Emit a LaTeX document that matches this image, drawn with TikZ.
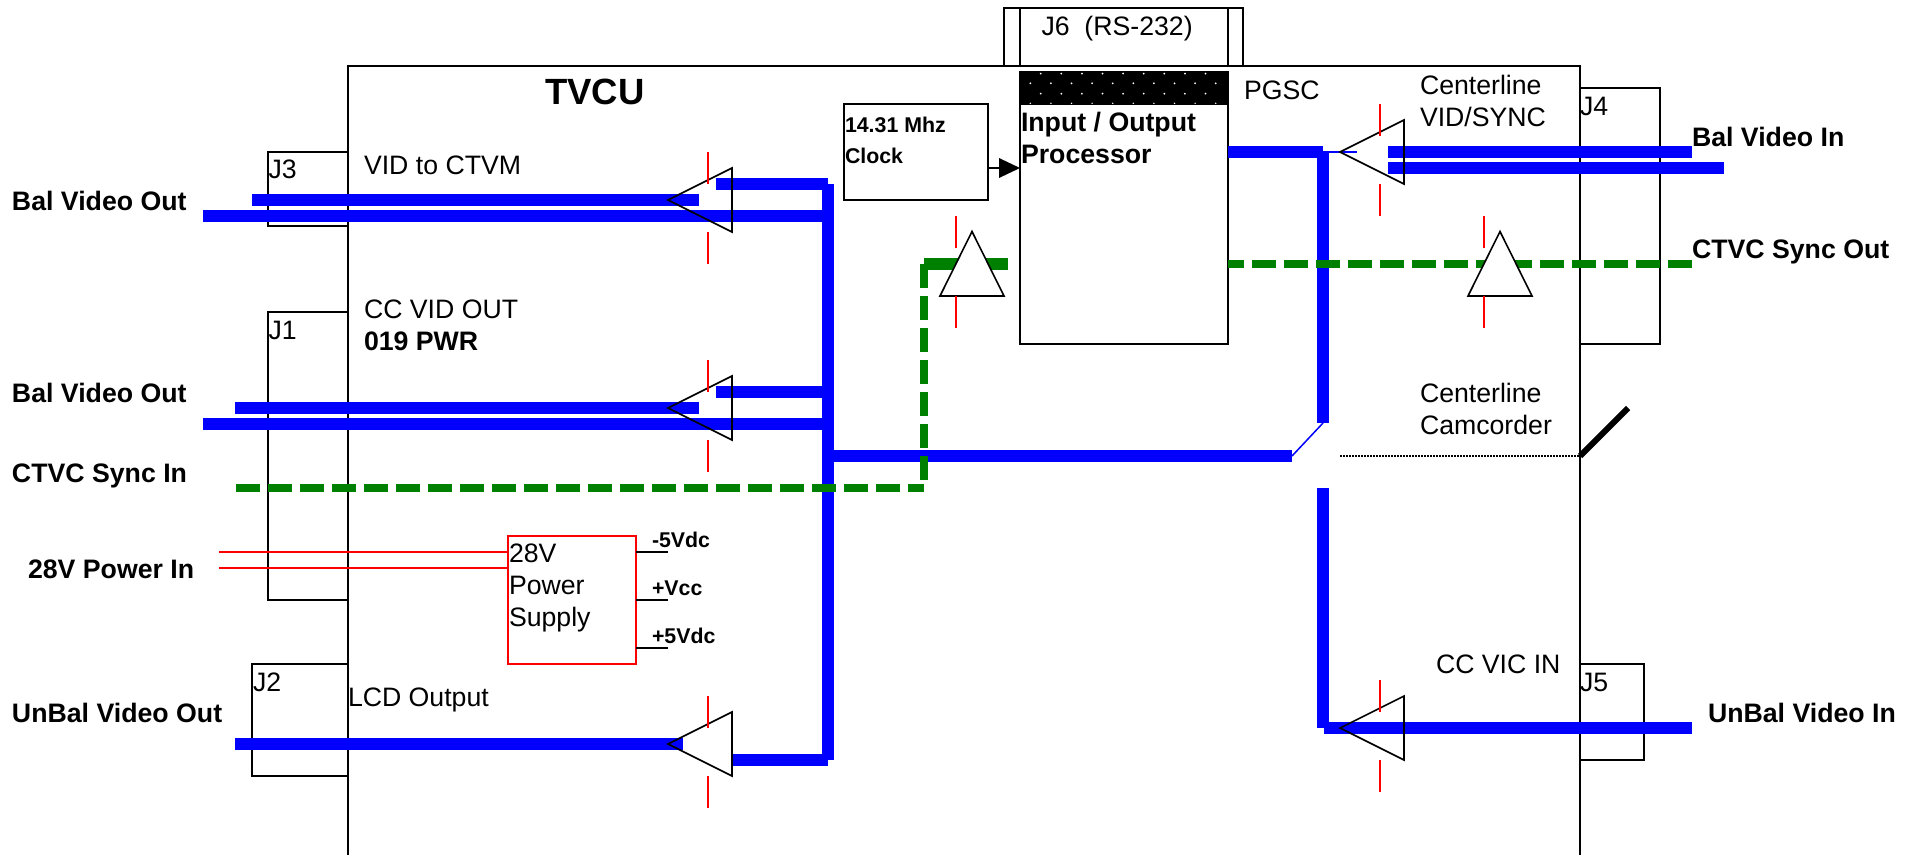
\documentclass[tikz,border=0pt]{standalone}
\usepackage{fontspec}
\setmainfont{Liberation Sans}
\newcommand{\reg}{\fontsize{26.67}{32}\selectfont}
\newcommand{\bld}{\fontsize{26.7}{32}\selectfont\bfseries}
\newcommand{\sml}{\fontsize{21.33}{26}\selectfont\bfseries}
\newcommand{\ttl}{\fontsize{36.5}{40}\selectfont\bfseries}
\definecolor{sigblue}{RGB}{0,0,255}
\definecolor{siggreen}{RGB}{0,128,0}
\definecolor{sigred}{RGB}{255,0,0}
\newcommand{\wire}[4]{\coordinate (#2a) at (#3);\coordinate (#2b) at (#4);\draw[#1] (#2a) -- (#2b);}
\newcommand{\buf}[5][]{\coordinate (#2p) at (#3);\coordinate (#2q) at (#4);\coordinate (#2r) at (#5);\draw[outl,#1] (#2p) -- (#2q) -- (#2r) -- cycle;}
\tikzset{
  x=1pt,y=-1pt,
  outl/.style={draw=black,line width=1.6pt,line join=miter},
  sigline/.style={draw=sigblue,line width=12pt},
  thinblue/.style={draw=sigblue,line width=1.5pt},
  syncline/.style={draw=siggreen,line width=8pt,dash pattern=on 24pt off 8pt},
  syncstub/.style={draw=siggreen,line width=12pt},
  tick/.style={draw=sigred,line width=1.3pt},
  pwr/.style={draw=sigred,line width=1.3pt},
  stub/.style={draw=black,line width=1.3pt},
  lbl/.style={anchor=base west,inner sep=0pt,outer sep=0pt,font=\reg},
  blbl/.style={anchor=base west,inner sep=0pt,outer sep=0pt,font=\bld},
  slbl/.style={anchor=base west,inner sep=0pt,outer sep=0pt,font=\sml},
  mlbl/.style={anchor=north west,inner sep=0pt,outer sep=0pt,align=left},
  boxn/.style={draw=black,line width=1.6pt,minimum width=0pt,minimum height=0pt,inner sep=0pt,outer sep=0pt,anchor=north west},
}
\begin{document}
\begin{tikzpicture}
\useasboundingbox (0,0) rectangle (1917,855);
\fill[white] (0,0) rectangle (1917,855);
\clip (0,0) rectangle (1917,855);
% housing
\coordinate (hbl) at (348,855);\coordinate (htl) at (348,66);\coordinate (htr) at (1580,66);\coordinate (hbr) at (1580,855);
\draw[outl] (hbl) -- (htl) -- (htr) -- (hbr);
% connectors on housing
\draw[outl] (348,152) -- (268,152) -- (268,226) -- (348,226);
\draw[outl] (348,312) -- (268,312) -- (268,600) -- (348,600);
\draw[outl] (348,664) -- (252,664) -- (252,776) -- (348,776);
\draw[outl] (1580,88) -- (1660,88) -- (1660,344) -- (1580,344);
\draw[outl] (1580,664) -- (1644,664) -- (1644,760) -- (1580,760);
\draw[outl] (1004,66) -- (1004,8) -- (1243,8) -- (1243,66);
\draw[outl] (1020,66) -- (1020,8);\draw[outl] (1228,66) -- (1228,8);
% processor
\node[boxn,minimum width=208pt,minimum height=272pt] (proc) at (1020,72) {};
\fill[black] (1020,72) rectangle (1228,104.5);
\foreach \i in {0,...,9}{\fill[white] (1030.3+20.6*\i,83.3) circle (1);}
\foreach \i in {0,...,8}{\fill[white] (1040.7+20.6*\i,73.6) circle (1);\fill[white] (1040.7+20.6*\i,93.7) circle (1);}
\foreach \i in {0,...,9}{\fill[white] (1030.3+20.6*\i,103.3) circle (0.8);}
\node[boxn,minimum width=144pt,minimum height=96pt] (clock) at (844,104) {};
\draw[stub] (clock.east |- 0,168) -- (1000,168);
\fill[black] (1020,168) -- (999,158) -- (999,178) -- cycle;
% blue wiring left
\wire{sigline}{a}{252,200}{699,200}
\wire{sigline}{b}{203,216}{828,216}
\wire{sigline}{c}{715.5,184}{828,184}
\wire{sigline}{d}{235,408}{699,408}
\wire{sigline}{e}{203,424}{828,424}
\wire{sigline}{f}{715.5,392}{828,392}
\wire{sigline}{g}{235,744}{683,744}
\wire{sigline}{h}{731,760}{828,760}
\wire{sigline}{v}{828,184}{828,760}
\wire{sigline}{k}{832,456}{1292,456}
% blue wiring right
\wire{sigline}{m}{1228,152}{1323,152}
\wire{thinblue}{u}{1323,152}{1357,152}
\wire{sigline}{n}{1323,152}{1323,423}
\draw[thinblue] (kb) -- (nb);
\wire{sigline}{o}{1323,488}{1323,728}
\wire{sigline}{p}{1323.7,728}{1692,728}
\wire{sigline}{q}{1388,152}{1692,152}
\wire{sigline}{r}{1388,168}{1724,168}
% green
\wire{syncline}{s}{236,488}{924,488}
\wire{syncline}{w}{924,264}{924,480}
\wire{syncstub}{x}{924,264}{1008,264}
\coordinate (ya) at (1228,264);\coordinate (yb) at (1692,264);
\draw[syncline,dash phase=8pt] (ya) -- (yb);
% buffers
\buf{B1}{668,200}{732,168}{732,232}
\buf{B2}{668,408}{732,376}{732,440}
\buf{B3}{668,744}{732,712}{732,776}
\buf{B4}{1340,152}{1404,120}{1404,184}
\buf{B5}{1340,728}{1404,696}{1404,760}
\buf[fill=white]{B6}{972,231.5}{940,296}{1004,296}
\buf[fill=white]{B7}{1500,231.5}{1468,296}{1532,296}
% ticks
\wire{tick}{ta}{708,152}{708,184}\wire{tick}{tb}{708,232}{708,264}
\wire{tick}{tc}{708,360}{708,392}\wire{tick}{td}{708,440}{708,472}
\wire{tick}{te}{708,696}{708,728}\wire{tick}{tf}{708,776}{708,808}
\wire{tick}{tg}{1380,104}{1380,136}\wire{tick}{th}{1380,184}{1380,216}
\wire{tick}{ti}{1380,680}{1380,712}\wire{tick}{tj}{1380,760}{1380,792}
\wire{tick}{tk}{956,216}{956,248}\wire{tick}{tl}{956,296}{956,328}
\wire{tick}{tm}{1484,216}{1484,248}\wire{tick}{tn}{1484,296}{1484,328}
% power supply
\node[boxn,draw=sigred,minimum width=128pt,minimum height=128pt] (psu) at (508,536) {};
\coordinate (pi1) at (219,552);\coordinate (pi2) at (219,568);
\draw[pwr] (pi1) -- (pi1 -| psu.west);\draw[pwr] (pi2) -- (pi2 -| psu.west);
\coordinate (so1) at (668,552);\coordinate (so2) at (668,600);\coordinate (so3) at (668,648);
\draw[stub] (so1 -| psu.east) -- (so1);\draw[stub] (so2 -| psu.east) -- (so2);\draw[stub] (so3 -| psu.east) -- (so3);
% camcorder switch
\coordinate (c1) at (1340,456);\coordinate (c2) at (1580,456);\coordinate (c3) at (1628,408);
\draw[line width=1.3pt,dash pattern=on 1.5pt off 1.5pt] (c1) -- (c2);
\draw[line width=6pt] (c2) -- (c3);
% text
\node[anchor=base west,inner sep=0pt,font=\ttl] (tvcu) at (545,104) {TVCU};
\node[lbl] (tJ6) at (1041.5,35) {J6\ \ (RS-232)};
\node[lbl] (tJ3) at (268.5,178) {J3};
\node[lbl] (tJ1) at (268.5,339) {J1};
\node[lbl] (tJ2) at (253,691) {J2};
\node[lbl] (tJ4) at (1580,115) {J4};
\node[lbl] (tJ5) at (1580,691) {J5};
\node[lbl] (vid) at (364,174) {VID to CTVM};
\node[lbl] (ccv) at (364,318) {CC VID OUT};
\node[blbl] (pwr) at (364,350) {019 PWR};
\node[lbl] (lcd) at (348,706) {LCD Output};
\node[lbl] (pgsc) at (1244,99) {PGSC};
\node[mlbl,font=\reg] (cvs) at (1420,75) {Centerline\\VID/SYNC};
\node[mlbl,font=\reg] (cam) at (1420,383) {Centerline\\Camcorder};
\node[lbl] (ccvic) at (1436,673) {CC VIC IN};
\node[mlbl,font=\reg] (psut) at (509,544) {28V\\Power\\Supply};
\node[mlbl,font=\bld] (iop) at (1021,112) {Input / Output\\Processor};
\node[mlbl,font=\sml,text=black] (clk) at (845,117) {14.31 Mhz\\[5pt]Clock};
\node[slbl] at (652,547) {-5Vdc};
\node[slbl] at (652,595) {+Vcc};
\node[slbl] at (652,643) {+5Vdc};
\node[blbl] at (12,210) {Bal Video Out};
\node[blbl] at (12,402) {Bal Video Out};
\node[blbl] at (12,482) {CTVC Sync In};
\node[blbl] at (28,578) {28V Power In};
\node[blbl] at (12,722) {UnBal Video Out};
\node[blbl] at (1692,146) {Bal Video In};
\node[blbl] at (1692,258) {CTVC Sync Out};
\node[blbl] at (1708,722) {UnBal Video In};
\end{tikzpicture}
\end{document}
